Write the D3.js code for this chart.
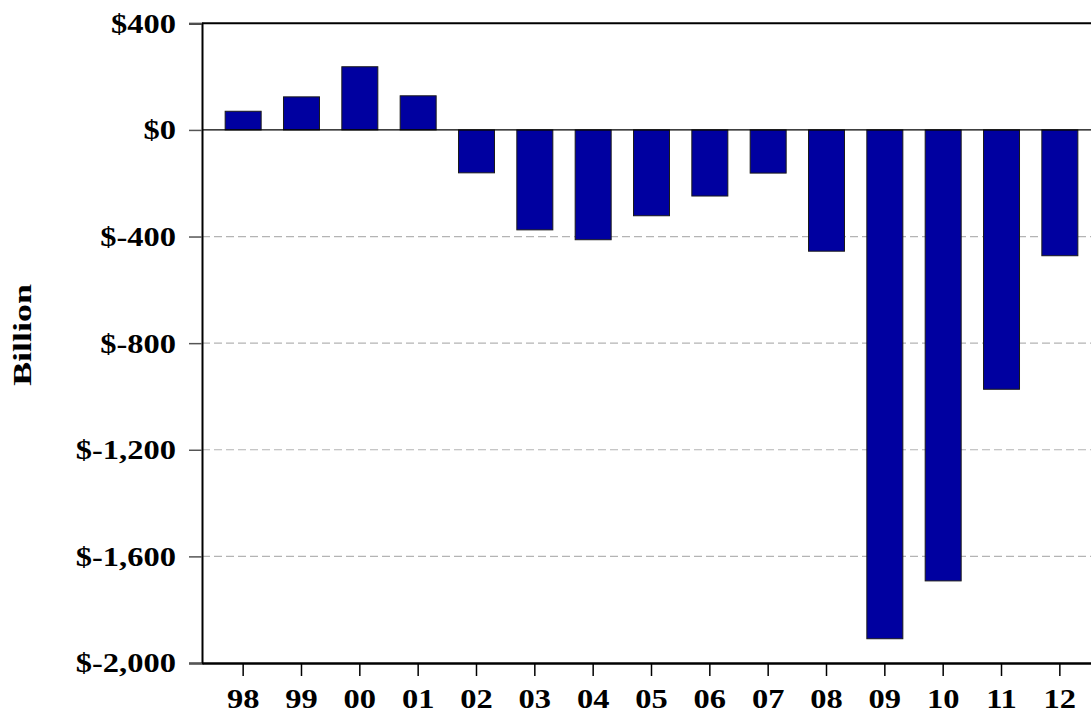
<body style="margin:0;background:#fff">
  <script src="https://d3js.org/d3.v7.min.js" charset="utf-8"></script>
  <script>
      // federal budget surplus / deficit, $ billion
      var years = ["98","99","00","01","02","03","04","05","06","07","08","09","10","11","12"];
      var balance = [70, 124, 237, 128, -161, -375, -412, -322, -248, -162, -455, -1909, -1692, -973, -472];
      var yTicks = [400, 0, -400, -800, -1200, -1600, -2000];

      var plotLeft = 202, plotTop = 23.3, plotRight = 1101, plotBottom = 663;
      var stretch = 1.16; // labels look horizontally widened
      var serif = "Liberation Serif, Times New Roman, Times, serif";

      var svg = d3.select("body").append("svg").attr("width", 1091).attr("height", 713);

      var x = d3.scaleBand().domain(years).range([plotLeft, plotRight]).paddingInner(0.383).paddingOuter(0.397);
      var y = d3.scaleLinear().domain([-2000, 400]).range([plotBottom, plotTop]);

      // gridlines
      svg.selectAll("line.grid")
        .data(yTicks.filter(function(d) { return d < 0 && d > -2000; }))
        .enter().append("line")
        .attr("class", "grid")
        .attr("x1", plotLeft).attr("x2", plotRight)
        .attr("y1", function(d) { return y(d); }).attr("y2", function(d) { return y(d); })
        .attr("stroke", "#b4b4b4").attr("stroke-width", 1.2)
        .attr("stroke-dasharray", "8,4");

      // bars
      svg.selectAll("rect.bar")
        .data(balance)
        .enter().append("rect")
        .attr("class", "bar")
        .attr("x", function(d, i) { return x(years[i]); })
        .attr("width", x.bandwidth())
        .attr("y", function(d) { return y(Math.max(0, d)); })
        .attr("height", function(d) { return Math.abs(y(d) - y(0)); })
        .attr("fill", "#0000a0")
        .attr("stroke", "#1a1a1a").attr("stroke-width", 1);

      // zero line
      svg.append("line")
        .attr("x1", plotLeft).attr("x2", plotRight)
        .attr("y1", y(0)).attr("y2", y(0))
        .attr("stroke", "#000").attr("stroke-width", 1.3);

      // top frame
      svg.append("line").attr("x1", plotLeft).attr("x2", plotRight).attr("y1", plotTop).attr("y2", plotTop)
        .attr("stroke", "#000").attr("stroke-width", 2);

      // "$-400" style, with a plain hyphen
      var fmt = function(d) { return "$" + d3.format(",")(d).replace("\u2212", "-"); };

      var yAxis = svg.append("g")
        .attr("transform", "translate(" + plotLeft + ",0)")
        .call(d3.axisLeft(y).tickValues(yTicks).tickFormat(fmt).tickSize(13).tickPadding(9.5));
      yAxis.attr("font-family", null);
      yAxis.select(".domain").attr("stroke", "#000").attr("stroke-width", 2);
      yAxis.selectAll(".tick line").attr("stroke", "#555").attr("stroke-width", 1.5);
      yAxis.selectAll(".tick text")
        .attr("fill", "#000")
        .attr("font-family", serif)
        .style("font-size", "28px").style("font-weight", "bold")
        .attr("transform", "scale(" + stretch + ",1)");

      var xAxis = svg.append("g")
        .attr("transform", "translate(0," + plotBottom + ")")
        .call(d3.axisBottom(x).tickSize(13).tickPadding(12).tickSizeOuter(0));
      xAxis.attr("font-family", null);
      xAxis.select(".domain").attr("stroke", "#000").attr("stroke-width", 2.5);
      xAxis.selectAll(".tick line").attr("stroke", "#000").attr("stroke-width", 1.5);
      xAxis.selectAll(".tick text")
        .attr("fill", "#000")
        .attr("font-family", serif)
        .style("font-size", "28px").style("font-weight", "bold")
        .attr("transform", "scale(" + stretch + ",1)");

      // axis title
      svg.append("text")
        .attr("transform", "translate(31,335) rotate(-90) scale(1.38,1)")
        .attr("text-anchor", "middle")
        .attr("font-family", serif)
        .style("font-size", "26px").style("font-weight", "bold")
        .text("Billion");
  </script>
</body>
